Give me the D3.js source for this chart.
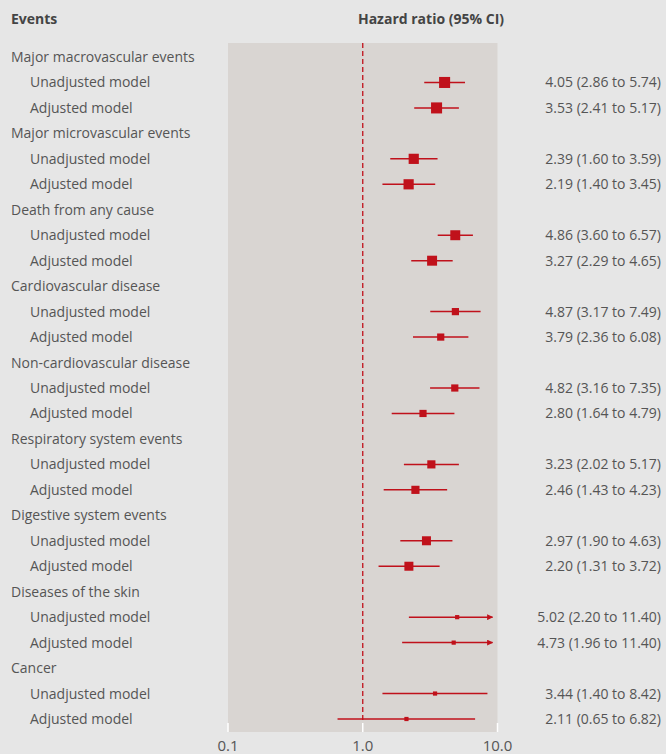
<!DOCTYPE html>
<html>
<head>
<meta charset="utf-8">
<script src="https://cdn.jsdelivr.net/npm/d3@7"></script>
<style>
  body { margin: 0; background: #e6e6e6; }
  svg { display: block; font-family: "Open Sans", sans-serif; }
</style>
</head>
<body>
<script>
var groups = ["Major macrovascular events", "Major microvascular events", "Death from any cause",
  "Cardiovascular disease", "Non-cardiovascular disease", "Respiratory system events",
  "Digestive system events", "Diseases of the skin", "Cancer"];
var models = ["Unadjusted model", "Adjusted model"];
// hazard ratios, [unadjusted, adjusted] per group
var hr    = [[4.05, 3.53], [2.39, 2.19], [4.86, 3.27], [4.87, 3.79], [4.82, 2.80], [3.23, 2.46], [2.97, 2.20], [5.02, 4.73], [3.44, 2.11]];
var lower = [[2.86, 2.41], [1.60, 1.40], [3.60, 2.29], [3.17, 2.36], [3.16, 1.64], [2.02, 1.43], [1.90, 1.31], [2.20, 1.96], [1.40, 0.65]];
var upper = [[5.74, 5.17], [3.59, 3.45], [6.57, 4.65], [7.49, 6.08], [7.35, 4.79], [5.17, 4.23], [4.63, 3.72], [11.40, 11.40], [8.42, 6.82]];
// relative weight of each group (box size)
var weights = [0.92, 0.85, 0.83, 0.6, 0.6, 0.68, 0.75, 0.35, 0.35];
var ticks = [0.1, 1, 10];

var width = 666, height = 754;
var red = "#c0111b";
var txt = "#555";

var rows = [];
groups.forEach(function(g, i) {
  rows.push({ key: "g" + i, label: g, group: true });
  models.forEach(function(m, j) {
    rows.push({ key: "g" + i + "m" + j, label: m, group: false,
      hr: hr[i][j], lo: lower[i][j], hi: upper[i][j], w: weights[i] });
  });
});

var svg = d3.select("body").append("svg")
  .attr("width", width)
  .attr("height", height);

var x = d3.scaleLog().domain([0.1, 10]).range([228, 497.5]);
var y = d3.scalePoint().domain(rows.map(function(d) { return d.key; })).range([57, 719]);
var box = d3.scaleLinear().domain([0, 1]).range([0, 12]);

// panel
svg.append("rect")
  .attr("x", x(0.1)).attr("y", 43)
  .attr("width", x(10) - x(0.1)).attr("height", 732 - 43)
  .attr("fill", "#d9d5d2");

// white tick marks at the bottom of the panel
svg.selectAll("line.tick").data(ticks).enter().append("line")
  .attr("class", "tick")
  .attr("x1", function(d) { return x(d); }).attr("x2", function(d) { return x(d); })
  .attr("y1", 723).attr("y2", 732)
  .attr("stroke", "#fff").attr("stroke-width", 1.5);

// reference line at 1
svg.append("line")
  .attr("x1", x(1)).attr("x2", x(1))
  .attr("y1", 43).attr("y2", 723)
  .attr("stroke", red).attr("stroke-width", 1.3)
  .attr("stroke-dasharray", "5,3");

// headers
svg.append("text").attr("x", 11).attr("y", 24)
  .attr("font-size", 14).attr("font-weight", "bold").attr("fill", "#444")
  .text("Events");
svg.append("text").attr("x", 431).attr("y", 24).attr("text-anchor", "middle")
  .attr("font-size", 14).attr("font-weight", "bold").attr("fill", "#444")
  .text("Hazard ratio (95% CI)");

// row labels
svg.selectAll("text.label").data(rows).enter().append("text")
  .attr("class", "label")
  .attr("x", function(d) { return d.group ? 11 : 30; })
  .attr("y", function(d) { return y(d.key) + 5; })
  .attr("font-size", 14).attr("fill", txt)
  .text(function(d) { return d.label; });

var est = rows.filter(function(d) { return !d.group; });

// arrow marker for CIs that run off the axis
svg.append("defs").append("marker")
  .attr("id", "arrow")
  .attr("viewBox", "0 0 10 10").attr("refX", 9).attr("refY", 5)
  .attr("markerWidth", 6).attr("markerHeight", 6)
  .attr("markerUnits", "userSpaceOnUse")
  .attr("orient", "auto")
  .append("path").attr("d", "M0,0L10,5L0,10Z").attr("fill", red);

svg.selectAll("line.ci").data(est).enter().append("line")
  .attr("class", "ci")
  .attr("x1", function(d) { return x(d.lo); })
  .attr("x2", function(d) { return d.hi > 10 ? x(10) - 5 : x(d.hi); })
  .attr("y1", function(d) { return y(d.key); })
  .attr("y2", function(d) { return y(d.key); })
  .attr("stroke", red).attr("stroke-width", 1.5)
  .attr("marker-end", function(d) { return d.hi > 10 ? "url(#arrow)" : null; });

svg.selectAll("rect.est").data(est).enter().append("rect")
  .attr("class", "est")
  .attr("x", function(d) { return x(d.hr) - box(d.w) / 2; })
  .attr("y", function(d) { return y(d.key) - box(d.w) / 2; })
  .attr("width", function(d) { return box(d.w); })
  .attr("height", function(d) { return box(d.w); })
  .attr("fill", red);

// value labels
svg.selectAll("text.value").data(est).enter().append("text")
  .attr("class", "value")
  .attr("x", 661)
  .attr("y", function(d) { return y(d.key) + 5; })
  .attr("text-anchor", "end")
  .attr("font-size", 14).attr("fill", txt)
  .text(function(d) {
    return d.hr.toFixed(2) + " (" + d.lo.toFixed(2) + " to " + d.hi.toFixed(2) + ")";
  });

// axis labels
svg.selectAll("text.axis").data(ticks).enter().append("text")
  .attr("class", "axis")
  .attr("x", function(d) { return x(d); })
  .attr("y", 751)
  .attr("text-anchor", "middle")
  .attr("font-size", 15).attr("fill", txt)
  .text(function(d) { return d.toFixed(1); });
</script>
</body>
</html>
